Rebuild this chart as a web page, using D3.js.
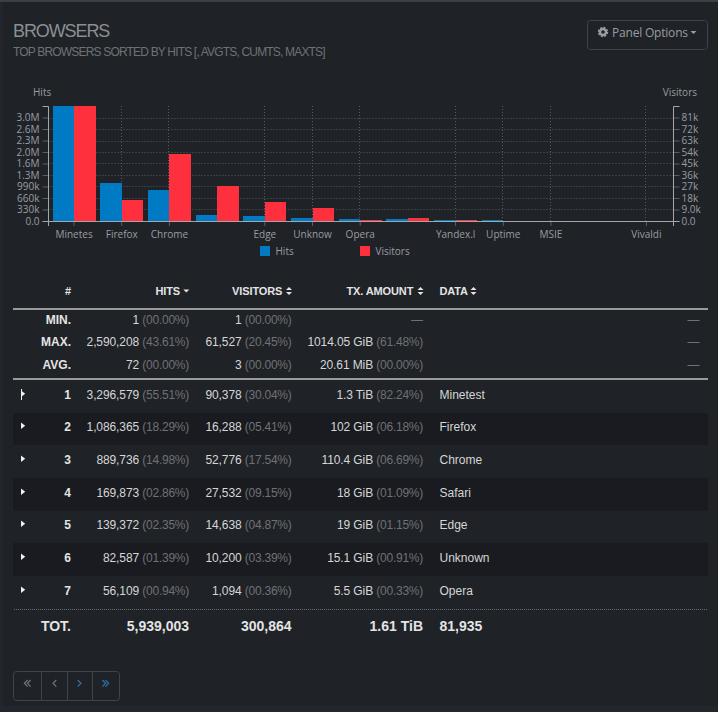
<!DOCTYPE html>
<html><head><meta charset="utf-8">
<style>
html,body{margin:0;padding:0;background:#23272d;overflow:hidden}
svg{display:block}
text{font-family:"Liberation Sans",Arial,sans-serif}
.c text{font-family:"Open Sans",sans-serif;font-size:10px;fill:#9a9da1}
</style>
<script src="https://cdnjs.cloudflare.com/ajax/libs/d3/7.8.5/d3.min.js"></script>
</head><body><svg id="s" width="718" height="712"></svg>
<script>
// ---------- chart data ----------
const xLabels = ["Minetes","Firefox","Chrome","","Edge","Unknow","Opera","","Yandex.l","Uptime","MSIE","","Vivaldi"];
const hits = [3296579,1086365,889736,169873,139372,82587,56109,55000,30000,28000,1200,300,150];
const visitors = [90378,16288,52776,27532,14638,10200,1094,2400,800,60,30,10,5];
const hitsTicks = [0,329658,659316,988974,1318632,1648290,1977948,2307605,2637263,2966921];
const hitsTickLabels = ["0.0","330k","660k","990k","1.3M","1.6M","2.0M","2.3M","2.6M","3.0M"];
const visitorsTicks = [0,9038,18076,27113,36151,45189,54227,63265,72302,81340];
const visitorsTickLabels = ["0.0","9.0k","18k","27k","36k","45k","54k","63k","72k","81k"];
// ---------- table data ----------
const headers = ["#","HITS","VISITORS","TX. AMOUNT","DATA"];
const statLabels = ["MIN.","MAX.","AVG."];
const statHits = [["1","(00.00%)"],["2,590,208","(43.61%)"],["72","(00.00%)"]];
const statVisitors = [["1","(00.00%)"],["61,527","(20.45%)"],["3","(00.00%)"]];
const statTx = [null,["1014.05 GiB","(61.48%)"],["20.61 MiB","(00.00%)"]];
const rowNums = ["1","2","3","4","5","6","7"];
const rowHits = [["3,296,579","(55.51%)"],["1,086,365","(18.29%)"],["889,736","(14.98%)"],["169,873","(02.86%)"],["139,372","(02.35%)"],["82,587","(01.39%)"],["56,109","(00.94%)"]];
const rowVisitors = [["90,378","(30.04%)"],["16,288","(05.41%)"],["52,776","(17.54%)"],["27,532","(09.15%)"],["14,638","(04.87%)"],["10,200","(03.39%)"],["1,094","(00.36%)"]];
const rowTx = [["1.3 TiB","(82.24%)"],["102 GiB","(06.18%)"],["110.4 GiB","(06.69%)"],["18 GiB","(01.09%)"],["19 GiB","(01.15%)"],["15.1 GiB","(00.91%)"],["5.5 GiB","(00.33%)"]];
const rowData = ["Minetest","Firefox","Chrome","Safari","Edge","Unknown","Opera"];
const totals = ["TOT.","5,939,003","300,864","1.61 TiB","81,935"];

const BLUE="#007bc3", RED="#ff303e", AXIS="#a5a7aa", DIM="#5a5e64", GRID="#565a60";
const svg=d3.select("#s");
// page panel
svg.append("rect").attr("width",718).attr("height",2).attr("fill","#3b3f46");
svg.append("rect").attr("x",3).attr("y",2).attr("width",715).attr("height",704).attr("fill","#1f2227");

// header
svg.append("text").attr("x",13).attr("y",36.5).attr("font-size",18).attr("letter-spacing","-1.1px").attr("fill","#8b8f94").text("BROWSERS");
svg.append("text").attr("x",13).attr("y",56).attr("font-size",12).attr("letter-spacing","-0.82px").attr("fill","#6e7277").text("TOP BROWSERS SORTED BY HITS [, AVGTS, CUMTS, MAXTS]");
// panel button
const btn=svg.append("g");
btn.append("rect").attr("x",587.5).attr("y",20.5).attr("width",120).attr("height",29).attr("rx",3).attr("fill","none").attr("stroke","#3f434a");
btn.append("circle").attr("cx",603).attr("cy",32).attr("r",3).attr("fill","none").attr("stroke","#9a9da1").attr("stroke-width",2.4);
btn.append("circle").attr("cx",603).attr("cy",32).attr("r",4.4).attr("fill","none").attr("stroke","#9a9da1").attr("stroke-width",1.6).attr("stroke-dasharray","2 1.45");
btn.append("text").attr("x",612).attr("y",37).attr("font-size",12).attr("letter-spacing","-0.2px").style("font-family","'Open Sans',sans-serif").attr("fill","#9a9da1").text("Panel Options");
btn.append("path").attr("d","M690.5 31h6l-3 3z").attr("fill","#9a9da1");

// chart
const plotTop=106,base=221,lx=48.5,rx=673.5;
const x=d3.scaleBand().domain(d3.range(xLabels.length)).range([50.2,670.2]).paddingInner(.1).paddingOuter(.05);
const x1=d3.scaleBand().domain([0,1]).range([0,x.bandwidth()]);
const yL=d3.scaleLinear().domain([0,d3.max(hits)]).range([base,plotTop]);
const yR=d3.scaleLinear().domain([0,d3.max(visitors)]).range([base,plotTop]);
const cx=i=>x(i)+x.bandwidth()/2;
const c=svg.append("g").attr("class","c");
const shown=d3.range(xLabels.length).filter(i=>xLabels[i]);

// grid
c.append("g").selectAll("line").data(hitsTicks.slice(1)).join("line")
 .attr("x1",lx).attr("x2",rx).attr("y1",d=>Math.round(yL(d))+.5).attr("y2",d=>Math.round(yL(d))+.5)
 .attr("stroke",GRID).attr("stroke-dasharray","1 2");
c.append("g").selectAll("line").data(shown).join("line")
 .attr("x1",i=>Math.round(cx(i))-.5).attr("x2",i=>Math.round(cx(i))-.5).attr("y1",plotTop).attr("y2",base)
 .attr("stroke",GRID).attr("stroke-dasharray","1 2");

// x ticks below baseline
c.append("g").attr("class","xa").attr("transform",`translate(0,${base})`)
 .call(d3.axisBottom(x).tickValues(shown).tickSize(5).tickPadding(5).tickFormat(i=>xLabels[i]))
 .call(g=>g.select(".domain").remove())
 .call(g=>g.selectAll("line").attr("stroke",DIM))
 .call(g=>g.selectAll("text").attr("dy","0.71em"));

// bars
const pair=c.append("g").attr("shape-rendering","crispEdges").selectAll("g").data(xLabels).join("g").attr("transform",(d,i)=>`translate(${x(i)},0)`);
pair.append("rect").attr("x",x1(0)).attr("width",x1.bandwidth()).attr("y",(d,i)=>yL(hits[i])).attr("height",(d,i)=>base-yL(hits[i])).attr("fill",BLUE);
pair.append("rect").attr("x",x1(1)).attr("width",x1.bandwidth()).attr("y",(d,i)=>yR(visitors[i])).attr("height",(d,i)=>base-yR(visitors[i])).attr("fill",RED);

// y axes
const tickFmt=(vals,labs)=>d=>labs[vals.indexOf(d)];
const la=c.append("g").attr("transform",`translate(${lx},0)`)
 .call(d3.axisLeft(yL).tickValues(hitsTicks).tickSize(6).tickPadding(3).tickFormat(tickFmt(hitsTicks,hitsTickLabels)));
const ra=c.append("g").attr("transform",`translate(${rx},0)`)
 .call(d3.axisRight(yR).tickValues(visitorsTicks).tickSize(6).tickPadding(2).tickFormat(tickFmt(visitorsTicks,visitorsTickLabels)));
[la,ra].forEach(g=>{
 g.select(".domain").remove();
 g.selectAll("line").attr("stroke",DIM);
});
// axis lines
const axisLine=d3.line();
c.append("path").attr("d",axisLine([[42.5,plotTop+.5],[lx,plotTop+.5],[lx,226]])).attr("fill","none").attr("stroke",AXIS);
c.append("path").attr("d",axisLine([[679.5,plotTop+.5],[rx,plotTop+.5],[rx,226]])).attr("fill","none").attr("stroke",AXIS);
c.append("path").attr("d",axisLine([[42.5,base+.5],[679.5,base+.5]])).attr("fill","none").attr("stroke",AXIS);

// axis titles
c.append("text").attr("x",33).attr("y",96).text("Hits");
c.append("text").attr("x",697).attr("y",96).attr("text-anchor","end").text("Visitors");
// legend
const legend=[["Hits",BLUE,260],["Visitors",RED,360]];
const lg=c.append("g").selectAll("g").data(legend).join("g").attr("transform",d=>`translate(${d[2]},246)`);
lg.append("rect").attr("width",10).attr("height",10).attr("fill",d=>d[1]);
lg.append("text").attr("x",15.5).attr("y",9).text(d=>d[0]);

// table
const TXT="#d6d6d6",PCT="#6f7174",BOLD="#e4e4e4";
const dataX=439.5;
const rowY=[395,427,460,493,525,558,591];
const stripes=[[413,32],[478,33],[543,33]];
svg.append("g").selectAll("rect").data(stripes).join("rect").attr("x",13).attr("width",695).attr("y",d=>d[0]).attr("height",d=>d[1]).attr("fill","#191b20");

// header row
function sortIcon(g,xp,y,up,down){
 if(up)g.append("path").attr("d",`M${xp} ${y-1}h6l-3 -3z`).attr("fill","#e4e4e4");
 if(down)g.append("path").attr("d",`M${xp} ${y+ (up?1:-1.5)}h6l-3 3z`).attr("fill","#e4e4e4");
}
const hg=svg.append("g");
const hdr=(xp,txt,anchor)=>hg.append("text").attr("x",xp).attr("y",295).attr("text-anchor",anchor).attr("font-size",11).attr("font-weight","bold").attr("letter-spacing","-0.12px").attr("fill",BOLD).text(txt);
hdr(71,headers[0],"end");
const hRight=[180,282.3,413.3];
const iconX=[183.3,286,417.5];
[1,2,3].forEach((k,j)=>{
 hdr(hRight[j],headers[k],"end");
 sortIcon(hg,iconX[j],291,j!=0,true);
});
hdr(dataX,headers[4],"start");
sortIcon(hg,470.5,291,true,true);

svg.append("line").attr("x1",13).attr("x2",708).attr("y1",309).attr("y2",309).attr("stroke","#9a9a9a").attr("stroke-width",2);
svg.append("line").attr("x1",13).attr("x2",708).attr("y1",379).attr("y2",379).attr("stroke","#9a9a9a").attr("stroke-width",2);

function valPct(g,right,y,p){
 const t=g.append("text").attr("x",right).attr("y",y).attr("text-anchor","end").attr("font-size",12);
 t.append("tspan").attr("fill",TXT).attr("letter-spacing","-0.1px").text(p[0]+" ");
 t.append("tspan").attr("fill",PCT).attr("letter-spacing","-0.25px").text(p[1]);
}
const tb=svg.append("g");
const statY=[324,346,369];
statLabels.forEach((s,i)=>{
 tb.append("text").attr("x",71).attr("y",statY[i]).attr("text-anchor","end").attr("font-size",12).attr("font-weight","bold").attr("fill",BOLD).text(s);
 valPct(tb,189,statY[i],statHits[i]);
 valPct(tb,291.5,statY[i],statVisitors[i]);
 if(statTx[i])valPct(tb,423,statY[i],statTx[i]);
 else tb.append("text").attr("x",423).attr("y",statY[i]).attr("text-anchor","end").attr("font-size",12).attr("fill",PCT).text("—");
 tb.append("text").attr("x",699.5).attr("y",statY[i]).attr("text-anchor","end").attr("font-size",12).attr("fill",PCT).text("—");
});
rowNums.forEach((n,i)=>{
 const y=rowY[i]+4;
 tb.append("path").attr("d",`M21 ${rowY[i]-4.6}l4.2 3.3l-4.2 3.3z`).attr("fill","#f0f0f0");
 tb.append("text").attr("x",71).attr("y",y).attr("text-anchor","end").attr("font-size",12).attr("font-weight","bold").attr("fill",BOLD).text(n);
 valPct(tb,189,y,rowHits[i]);
 valPct(tb,291.5,y,rowVisitors[i]);
 valPct(tb,423,y,rowTx[i]);
 tb.append("text").attr("x",dataX).attr("y",y).attr("font-size",12).attr("fill",TXT).text(rowData[i]);
});
tb.append("line").attr("x1",21.5).attr("x2",21.5).attr("y1",389).attr("y2",400).attr("stroke","#f0f0f0");
svg.append("line").attr("x1",14).attr("x2",707).attr("y1",609.5).attr("y2",609.5).attr("stroke","#6a6d71").attr("stroke-dasharray","1 1");
totals.forEach((t,i)=>{
 const ax=i<4?[71,189,291.5,423][i]:dataX;
 tb.append("text").attr("x",ax).attr("y",631).attr("text-anchor",i<4?"end":"start").attr("font-size",14).attr("font-weight","bold").attr("fill",BOLD).text(t);
});

// pagination
const pg=svg.append("g");
pg.append("rect").attr("x",13.5).attr("y",671.5).attr("width",106).attr("height",29).attr("rx",3).attr("fill","none").attr("stroke","#3f434a");
[41.5,67.5,92.5].forEach(v=>pg.append("line").attr("x1",v).attr("x2",v).attr("y1",671.5).attr("y2",700.5).attr("stroke","#3f434a"));
const chev=[[26,-1,2,"#6f7174"],[54.7,-1,1,"#6f7174"],[79.3,1,1,"#2f6da8"],[104,1,2,"#2f6da8"]];
chev.forEach(([cxp,dir,n,col])=>{
 d3.range(n).forEach(k=>{
  const px=cxp+k*3;
  pg.append("path").attr("d",d3.line()([[px-dir*1.6,680],[px+dir*1.6,683.3],[px-dir*1.6,686.6]])).attr("fill","none").attr("stroke",col).attr("stroke-width",1.3);
 });
});
</script></body></html>
